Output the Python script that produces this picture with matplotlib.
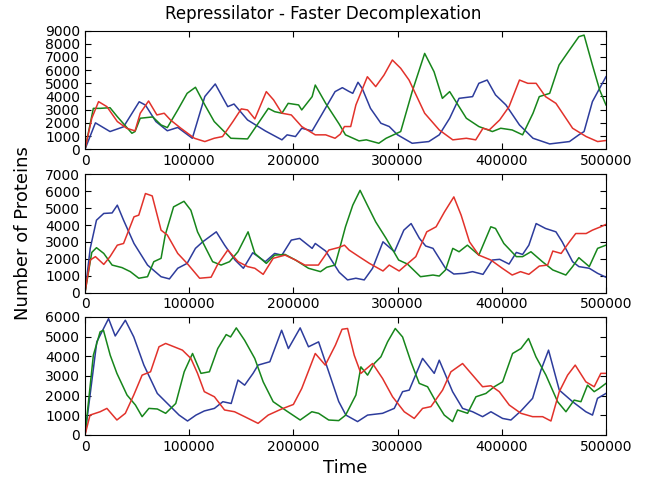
import matplotlib
matplotlib.use("Agg")
import matplotlib.pyplot as plt

# ---- panel 1 ----
t1_blue = [0, 10000, 24000, 37000, 52000, 58000, 68000, 79000, 89000, 103000, 115000, 125000,
           137000, 143000, 156000, 173000, 189000, 194000, 202000, 208000, 218000, 227000, 240000,
           247000, 253000, 257000, 262000, 266000, 274000, 284000, 292000, 300000, 314000, 330000,
           340000, 350000, 359000, 372000, 378000, 386000, 394000, 404000, 417000, 430000, 446000,
           465000, 474000, 479000, 487000, 500000]
p1_blue = [0, 2000, 1340, 1700, 3600, 3350, 2100, 1400, 1650, 830, 4000, 4950,
           3230, 3430, 2220, 1390, 710, 1090, 960, 1590, 1390, 2600, 4370,
           4670, 4400, 4240, 5080, 4620, 3100, 1970, 1720, 1090, 450, 580,
           1090, 2350, 3860, 3990, 5000, 5250, 4120, 3360, 1840, 830, 400,
           580, 1090, 1340, 3610, 5500]

t1_green = [0, 8000, 14500, 24000, 31000, 45000, 48000, 53000, 65000, 73000, 79000, 89000,
            98000, 106000, 115000, 124000, 140000, 156000, 163000, 176000, 182000, 189000,
            195000, 205000, 208000, 218000, 221000, 231000, 244000, 250000, 263000, 270000,
            282000, 289000, 303000, 314000, 326000, 335000, 343000, 350000, 356000, 366000,
            378000, 391000, 399000, 410000, 420000, 430000, 436000, 446000, 455000, 465000,
            474000, 479000, 487000, 494000, 500000]
p1_green = [0, 3100, 3100, 3150, 2470, 1210, 1340, 2350, 2450, 1840, 1640, 2980,
            4240, 4700, 3360, 2100, 830, 780, 1590, 3100, 2850, 2730,
            3480, 3360, 2980, 3990, 4870, 3480, 1900, 1090, 630, 710,
            450, 830, 1340, 4370, 7270, 5880, 3860, 4370, 3610, 2350,
            1720, 1340, 1590, 1460, 1090, 2730, 3990, 4240, 6390, 7530,
            8540, 8660, 6390, 4490, 3360]

t1_red = [0, 6500, 13000, 21000, 31000, 40000, 48000, 53000, 61000, 69000, 76000, 82000,
          92000, 105000, 115000, 124000, 132000, 142000, 150000, 156000, 163000, 174000,
          181000, 189000, 198000, 208000, 221000, 231000, 240000, 245000, 249000, 255000,
          260000, 271000, 279000, 287000, 295000, 303000, 311000, 326000, 340000, 353000,
          366000, 375000, 382000, 388000, 398000, 407000, 417000, 425000, 433000, 442000,
          452000, 468000, 481000, 492000, 500000]
p1_red = [0, 2350, 3610, 3230, 2100, 1590, 1390, 2730, 3660, 2600, 2730, 2220,
          1590, 830, 580, 830, 960, 2100, 3060, 2980, 2300, 4370,
          3740, 2730, 2600, 1720, 1090, 1090, 830, 1140, 1720, 1720,
          3360, 5500, 4750, 5630, 6770, 6140, 5250, 2730, 1460, 710,
          830, 710, 1590, 1460, 2220, 3230, 5250, 5000, 5000, 3990,
          3480, 1590, 960, 580, 660]

# ---- panel 2 ----
t2_blue = [0, 5000, 11000, 18000, 26000, 31000, 37000, 47000, 60000, 73000, 81000, 89000,
           98000, 106000, 113000, 126000, 134000, 144000, 152000, 161000, 173000, 182000,
           189000, 198000, 206000, 218000, 221000, 231000, 244000, 252000, 260000, 268000,
           276000, 286000, 297000, 306000, 313000, 321000, 327000, 334000, 346000, 354000,
           364000, 372000, 382000, 391000, 398000, 407000, 414000, 420000, 426000, 433000,
           442000, 452000, 458000, 468000, 474000, 484000, 492000, 500000]
p2_blue = [0, 2620, 4290, 4690, 4720, 5180, 4290, 2910, 1630, 940, 810, 1440,
           1730, 2620, 3010, 3600, 2810, 1930, 1440, 2360, 1830, 2320,
           2220, 3110, 3210, 2620, 2910, 2460, 1200, 750, 850, 750,
           1440, 3010, 2420, 3700, 4090, 3210, 2760, 2620, 1440, 1100,
           1140, 1240, 1080, 1930, 1970, 1690, 2380, 2260, 2810, 4090,
           3800, 3600, 3010, 1830, 1540, 1440, 1140, 910]

t2_green = [0, 6500, 11000, 18000, 26000, 35500, 43500, 51600, 60000, 66000, 73000, 77000,
            85000, 95000, 101600, 108000, 116000, 122500, 130600, 138700, 146800, 156500,
            163000, 174000, 182000, 192000, 202000, 214500, 226000, 232000, 240000, 244000,
            250000, 257000, 264000, 271000, 279000, 289000, 301000, 309500, 322000, 334000,
            340000, 346000, 353000, 359000, 367000, 378000, 389500, 394000, 402000, 414000,
            420000, 428000, 439000, 449000, 461500, 468000, 474000, 484000, 492000, 500000]
p2_green = [0, 2380, 2660, 2320, 1630, 1480, 1240, 850, 940, 1830, 2030, 3410,
            5080, 5410, 4880, 3600, 2620, 1830, 1630, 1830, 2420, 3600,
            2320, 1730, 2220, 2260, 1930, 1440, 1240, 1500, 1630, 2520,
            3900, 5180, 6060, 5180, 4190, 3210, 1930, 1690, 940, 1040,
            980, 1340, 2620, 2420, 2810, 2220, 3900, 3800, 2910, 2130,
            2130, 2420, 1830, 1340, 1040, 1540, 2070, 1540, 2620, 2810]

t2_red = [0, 5000, 10000, 18000, 24000, 31000, 37000, 47000, 51600, 58000, 64500, 73000,
          79000, 89000, 98000, 110000, 121000, 127000, 137000, 147000, 156000, 163000,
          171000, 180600, 192000, 202000, 211000, 224000, 234000, 244000, 249000, 253500,
          263000, 273000, 286000, 292000, 301500, 308000, 317500, 328000, 337000, 345000,
          354000, 361000, 369000, 378000, 389500, 400500, 410000, 418000, 426000, 436000,
          444000, 449000, 457000, 465000, 471000, 481000, 487000, 495000, 500000]
p2_red = [0, 1930, 2130, 1670, 2130, 2810, 2910, 4490, 4590, 5870, 5730, 3700,
          3410, 2320, 1730, 850, 910, 1630, 2520, 1830, 1540, 1440,
          1080, 2030, 2220, 1930, 1630, 1630, 2520, 2680, 2810, 2520,
          2130, 1730, 1280, 1630, 1280, 1630, 2130, 3600, 3900, 4780,
          5670, 4590, 3010, 2220, 1930, 1440, 1040, 1240, 1080, 1570,
          1630, 2460, 2320, 3010, 3500, 3500, 3700, 3900, 4040]

# ---- panel 3 ----
t3_blue = [0, 11300, 22600, 29000, 38700, 46800, 56500, 69400, 80600, 90300, 98400, 106500,
           114500, 124200, 132300, 140300, 146800, 153200, 161300, 166100, 177400, 188700,
           195200, 206500, 214500, 224200, 233900, 243500, 250400, 261600, 271200, 285600,
           296800, 304800, 311200, 324000, 335200, 340000, 352800, 362400, 372000, 381600,
           389600, 400800, 408800, 418400, 429600, 437600, 444900, 455200, 468000, 480700,
           487100, 491900, 500000]
p3_blue = [0, 4730, 5910, 5030, 5830, 4980, 3550, 2110, 1520, 1010, 710, 1010,
           1220, 1350, 1690, 1600, 2790, 2530, 3130, 3550, 3720, 5320,
           4390, 5440, 4480, 4730, 3210, 1700, 1010, 680, 1010, 1100,
           1350, 2200, 2280, 3890, 3130, 3800, 2200, 1350, 1180, 930,
           1180, 840, 760, 1220, 1860, 3290, 4310, 2280, 1690, 1180,
           1010, 1860, 2110]

t3_green = [0, 8000, 14500, 17700, 24200, 30600, 40300, 48400, 54800, 61300, 69400, 77400,
            87100, 95200, 103200, 111300, 119400, 127400, 135500, 139700, 145200, 153200,
            162900, 171000, 180600, 193500, 206500, 217700, 224200, 233900, 243500, 250000,
            260000, 264800, 271200, 277600, 284000, 290400, 297800, 304800, 312800, 320800,
            328800, 336800, 344800, 352800, 357600, 367200, 375200, 384800, 392800, 400800,
            410400, 418400, 425700, 432800, 442400, 453600, 461600, 469500, 476000, 482300,
            488700, 493500, 500000]
p3_green = [0, 4050, 5240, 5320, 4050, 3130, 2030, 1520, 930, 1350, 1320, 1100,
            1600, 3210, 4140, 3130, 3210, 4390, 5100, 4980, 5440, 4810,
            3890, 2700, 1690, 1220, 760, 1180, 1100, 760, 730, 1000,
            2030, 3460, 3040, 3630, 3970, 4730, 5410, 4980, 3720, 2620,
            2450, 1690, 1010, 680, 1270, 1100, 1940, 2110, 2450, 2700,
            4140, 4390, 4900, 3970, 3040, 1690, 1180, 1770, 1690, 2530,
            2200, 2360, 2620]

t3_red = [0, 4800, 14500, 21000, 30600, 38700, 46800, 54800, 62900, 71000, 77400, 85500,
          93500, 101600, 108000, 114500, 124200, 133900, 143500, 153200, 166100, 175800,
          188700, 200000, 208000, 221000, 230600, 240300, 246700, 252000, 258400, 264800,
          276000, 285600, 295200, 306400, 316000, 324000, 332000, 343200, 351200, 362400,
          372000, 381600, 389600, 397600, 407200, 418400, 429600, 439200, 447200, 455200,
          463200, 470500, 480700, 488700, 495100, 500000]
p3_red = [0, 1010, 1180, 1350, 760, 1100, 2030, 3040, 3210, 4480, 4650, 4480,
          4310, 3890, 3130, 2200, 1940, 1270, 1180, 930, 590, 1010,
          1320, 1550, 2360, 4140, 3550, 4560, 5370, 5410, 4050, 3130,
          3630, 2870, 1940, 1180, 840, 1350, 1440, 2280, 3210, 3630,
          3040, 2450, 2500, 2200, 1520, 1100, 930, 930, 710, 2200,
          3040, 3550, 2700, 2450, 3130, 3130]

ymax = [9000, 7000, 6000]
xticks = [0, 100000, 200000, 300000, 400000, 500000]

c_blue = "#2d3c9c"
c_green = "#17861b"
c_red = "#e2322b"

panels = [
    (t1_blue, p1_blue, t1_green, p1_green, t1_red, p1_red),
    (t2_blue, p2_blue, t2_green, p2_green, t2_red, p2_red),
    (t3_blue, p3_blue, t3_green, p3_green, t3_red, p3_red),
]

fig = plt.figure(figsize=(6.46, 4.86), dpi=100)
boxes = [(0.1316, 0.693, 0.8064, 0.244),
         (0.1316, 0.398, 0.8064, 0.243),
         (0.1316, 0.105, 0.8064, 0.243)]

axes = []
for i, (tb, pb, tg, pg, tr, pr) in enumerate(panels):
    ax = fig.add_axes(boxes[i])
    ax.plot(tb, pb, color=c_blue, lw=1.1)
    ax.plot(tg, pg, color=c_green, lw=1.1)
    ax.plot(tr, pr, color=c_red, lw=1.1)
    ax.set_xlim(0, 500000)
    ax.set_ylim(0, ymax[i])
    ax.set_xticks(xticks)
    ax.set_xticklabels([str(x) for x in xticks])
    ax.set_yticks(range(0, ymax[i] + 1, 1000))
    ax.tick_params(direction="in", top=True, right=True, labelsize=10, length=4)
    axes.append(ax)

fig.text(0.5, 0.971, "Repressilator - Faster Decomplexation", ha="center", va="center", fontsize=12)
fig.text(0.035, 0.52, "Number of Proteins", rotation=90, ha="center", va="center", fontsize=13)
axes[2].set_xlabel("Time", fontsize=13)

fig.savefig("out.png", dpi=100)
